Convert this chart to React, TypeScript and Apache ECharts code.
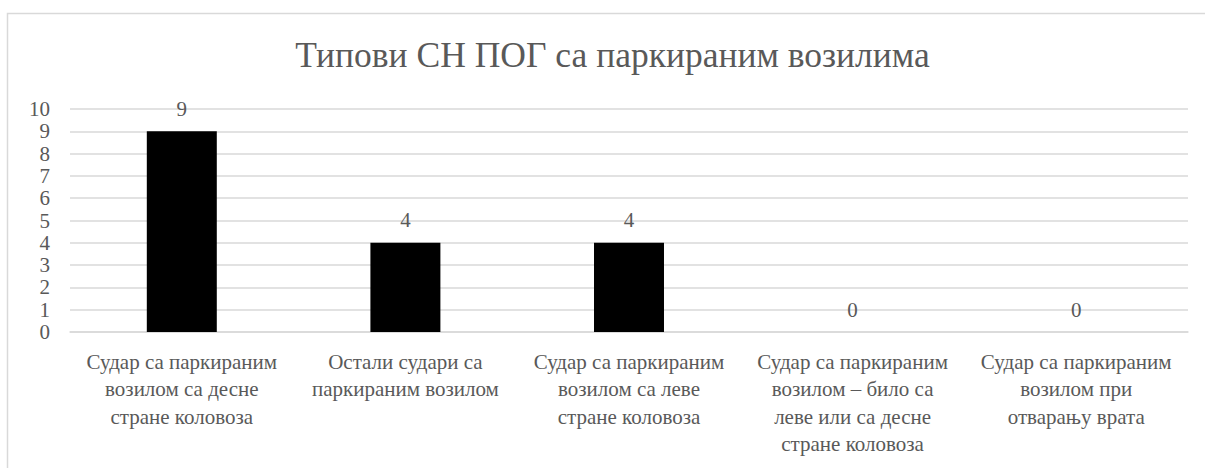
import React, { useEffect, useRef } from "react";
import * as echarts from "echarts";

const title = "Типови СН ПОГ са паркираним возилима";
const categories = [
  "Судар са паркираним\nвозилом са десне\nстране коловоза",
  "Остали судари са\nпаркираним возилом",
  "Судар са паркираним\nвозилом са леве\nстране коловоза",
  "Судар са паркираним\nвозилом – било са\nлеве или са десне\nстране коловоза",
  "Судар са паркираним\nвозилом при\nотварању врата",
];
const values = [9, 4, 4, 0, 0];
const yMin = 0;
const yMax = 10;
const yInterval = 1;

const FONT = "Liberation Serif";
const TEXT = "#595959";
const GRID = "#d9d9d9";

export default function App() {
  const ref = useRef<HTMLDivElement>(null);
  useEffect(() => {
    if (!ref.current) return;
    const chart = echarts.init(ref.current, undefined, { renderer: "svg" });
    chart.setOption({
      animation: false,
      backgroundColor: "#ffffff",
      graphic: [
        {
          type: "rect",
          shape: { x: 7.5, y: 13.5, width: 1230, height: 500 },
          style: { fill: "none", stroke: GRID, lineWidth: 1.5 },
          silent: true,
        },
        {
          type: "text",
          x: 612.5,
          y: 55,
          silent: true,
          style: {
            text: title,
            font: "normal 35.5px Liberation Serif",
            fill: TEXT,
            align: "center",
            verticalAlign: "middle",
          },
        },
      ],
      grid: { left: 70, right: 17, top: 109, bottom: 136 },
      xAxis: {
        type: "category",
        data: categories,
        axisLine: { show: true, lineStyle: { color: GRID, width: 1.5 } },
        axisTick: { show: false },
        axisLabel: {
          interval: 0,
          margin: 16,
          color: TEXT,
          fontFamily: FONT,
          fontSize: 21,
          lineHeight: 27.5,
          align: "center",
        },
      },
      yAxis: {
        type: "value",
        min: yMin,
        max: yMax,
        interval: yInterval,
        axisLine: { show: false },
        axisTick: { show: false },
        splitLine: { lineStyle: { color: GRID, width: 1.5 } },
        axisLabel: { color: TEXT, fontFamily: FONT, fontSize: 21, margin: 20 },
      },
      series: [
        {
          type: "bar",
          data: values,
          barWidth: "31.3%",
          itemStyle: { color: "#000000" },
          label: {
            show: true,
            position: "top",
            distance: 12,
            color: TEXT,
            fontFamily: FONT,
            fontSize: 21,
          },
        },
      ],
    });
    return () => chart.dispose();
  }, []);
  return (
    <div
      ref={ref}
      style={{ position: "fixed", left: 0, top: 0, width: 1205, height: 468 }}
    />
  );
}
